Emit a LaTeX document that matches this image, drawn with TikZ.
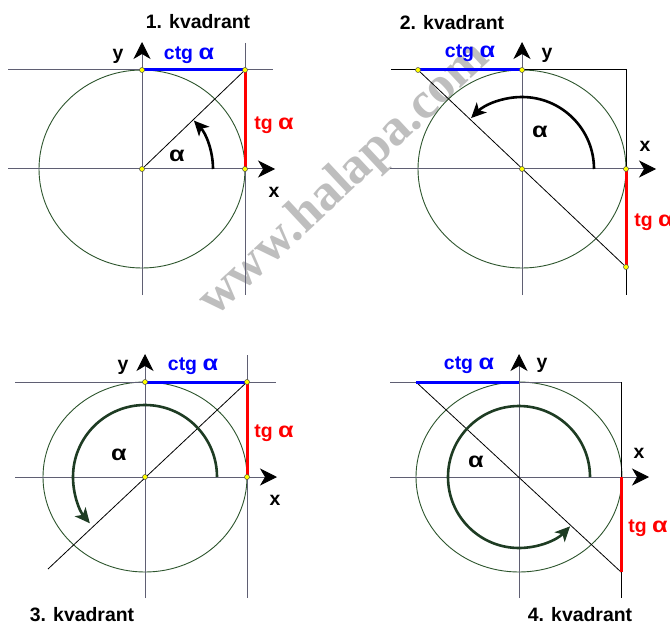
\documentclass[tikz,border=0pt]{standalone}
\usepackage{fontspec}
\setmainfont{Liberation Sans}
\newfontfamily\vodoznak{Liberation Serif}
\usepackage{tikz}
\usetikzlibrary{arrows.meta}
\definecolor{sivaOsa}{RGB}{95,95,115}
\definecolor{zelenaKruh}{RGB}{45,85,45}
\definecolor{zelenaOblouk}{RGB}{30,60,35}
\definecolor{modra}{RGB}{0,0,255}
\definecolor{cervena}{RGB}{255,0,0}
\definecolor{zluta}{RGB}{255,255,0}
\definecolor{sedaZnak}{RGB}{190,190,190}
\newcommand{\alfa}{\scalebox{1.3}[1.1]{α}}

\begin{document}
\begin{tikzpicture}[x=1bp,y=-1bp,font=\bfseries\fontsize{19.5}{21}\selectfont,
  osa/.style={sivaOsa,line width=1bp,
              -{Stealth[length=17bp,width=17bp,inset=5bp,color=black]}},
  primka/.style={sivaOsa,line width=1bp},
  ramecek/.style={black,line width=1bp},
  uhlopricka/.style={black,line width=0.8bp},
  kruh/.style={zelenaKruh,line width=0.9bp},
  ctg/.style={modra,line width=3bp},
  tg/.style={cervena,line width=3bp},
  oblouk/.style={line width=2.6bp,-{Stealth[length=15bp,width=14bp,inset=4bp]}},
  bod/.style={circle,draw=black!70,fill=zluta,inner sep=0pt,minimum size=5bp,
              line width=0.5bp},
  popis/.style={inner sep=0pt}]

  \useasboundingbox (0,0) rectangle (670,627);

  % vodoznak
  \node[rotate=43,text=sedaZnak,font=\vodoznak\bfseries\fontsize{52}{52}\selectfont]
    (www) at (345,180) {www.halapa.com};

  % 1. kvadrant
  \coordinate (O1) at (142,169);
  \coordinate (Y1) at (142,70);
  \coordinate (T1) at (245,70);
  \coordinate (X1) at (245,169);
  \coordinate (L1) at (8,70);    \coordinate (R1) at (273,70);
  \coordinate (H1) at (245,43);  \coordinate (D1) at (245,295);
  \coordinate (xa1) at (8,169);  \coordinate (xb1) at (275,169);
  \coordinate (ya1) at (142,295);\coordinate (yb1) at (142,42);
  \coordinate (A1) at (213,169);

  \draw[kruh] (O1) ellipse [x radius=103,y radius=99];
  \draw[primka] (L1) -- (R1);
  \draw[primka] (H1) -- (D1);
  \draw[osa] (xa1) -- (xb1);
  \draw[osa] (ya1) -- (yb1);
  \draw[uhlopricka] (O1) -- (T1);
  \draw[ctg] (Y1) -- (T1);
  \draw[tg] (T1) -- (X1);
  \draw[oblouk] (A1) arc[start angle=0,end angle=-43,radius=71];
  \node[bod] (b11) at (O1) {};
  \node[bod] (b12) at (Y1) {};
  \node[bod] (b13) at (T1) {};
  \node[bod] (b14) at (X1) {};

  \node[popis] (k1) at (198,22) {1. kvadrant};
  \node[popis] (y1) at (118,56) {y};
  \node[popis,modra] (c1) at (189,55) {ctg \alfa};
  \node[popis,cervena] (t1) at (274,125) {tg \alfa};
  \node[popis] (a1) at (177,156) {\alfa};
  \node[popis] (x1) at (274,192) {x};

  % 2. kvadrant
  \coordinate (O2) at (522,169);
  \coordinate (Y2) at (522,70);
  \coordinate (C2) at (418,70);
  \coordinate (X2) at (626,169);
  \coordinate (B2) at (626,267);
  \coordinate (L2) at (391,70);  \coordinate (R2) at (626,70);
  \coordinate (D2) at (626,295);
  \coordinate (xa2) at (390,169);\coordinate (xb2) at (656,169);
  \coordinate (ya2) at (522,295);\coordinate (yb2) at (522,42);
  \coordinate (A2) at (594,169);

  \draw[kruh] (O2) ellipse [x radius=104,y radius=99];
  \draw[ramecek] (L2) -- (R2) -- (D2);
  \draw[osa] (xa2) -- (xb2);
  \draw[osa] (ya2) -- (yb2);
  \draw[uhlopricka] (C2) -- (B2);
  \draw[ctg] (C2) -- (Y2);
  \draw[tg] (X2) -- (B2);
  \draw[oblouk] (A2) arc[start angle=0,end angle=-135,radius=72];
  \node[bod] (b21) at (O2) {};
  \node[bod] (b22) at (Y2) {};
  \node[bod] (b23) at (C2) {};
  \node[bod] (b24) at (X2) {};
  \node[bod] (b25) at (B2) {};

  \node[popis] (k2) at (452,23) {2. kvadrant};
  \node[popis,modra] (c2) at (470,53) {ctg \alfa};
  \node[popis] (y2) at (547,55) {y};
  \node[popis] (x2) at (645,146) {x};
  \node[popis,cervena] (t2) at (654,222) {tg \alfa};
  \node[popis] (a2) at (540,132) {\alfa};

  % 3. kvadrant
  \coordinate (O3) at (145,477);
  \coordinate (Y3) at (145,382);
  \coordinate (T3) at (247,382);
  \coordinate (X3) at (247,477);
  \coordinate (S3) at (48,569);
  \coordinate (L3) at (15,382);  \coordinate (R3) at (276,382);
  \coordinate (H3) at (247,355); \coordinate (D3) at (247,598);
  \coordinate (xa3) at (15,477); \coordinate (xb3) at (277,477);
  \coordinate (ya3) at (145,598);\coordinate (yb3) at (145,354);
  \coordinate (A3) at (217,477);

  \draw[kruh] (O3) ellipse [x radius=102,y radius=95];
  \draw[primka] (L3) -- (R3);
  \draw[primka] (H3) -- (D3);
  \draw[osa] (xa3) -- (xb3);
  \draw[osa] (ya3) -- (yb3);
  \draw[uhlopricka] (S3) -- (T3);
  \draw[ctg] (Y3) -- (T3);
  \draw[tg] (T3) -- (X3);
  \draw[oblouk,zelenaOblouk] (A3) arc[start angle=0,end angle=-220,radius=72];
  \node[bod] (b31) at (O3) {};
  \node[bod] (b32) at (Y3) {};
  \node[bod] (b33) at (T3) {};
  \node[bod] (b34) at (X3) {};

  \node[popis] (y3) at (123,367) {y};
  \node[popis,modra] (c3) at (193,366) {ctg \alfa};
  \node[popis,cervena] (t3) at (274,433) {tg \alfa};
  \node[popis] (a3) at (119,455) {\alfa};
  \node[popis] (x3) at (275,500) {x};
  \node[popis] (k3) at (82,615) {3. kvadrant};

  % 4. kvadrant
  \coordinate (O4) at (519,477);
  \coordinate (Y4) at (519,382);
  \coordinate (C4) at (416,382);
  \coordinate (X4) at (621,477);
  \coordinate (B4) at (621,572);
  \coordinate (L4) at (390,382); \coordinate (R4) at (621,382);
  \coordinate (D4) at (621,598);
  \coordinate (xa4) at (390,477);\coordinate (xb4) at (649,477);
  \coordinate (ya4) at (519,598);\coordinate (yb4) at (519,354);
  \coordinate (A4) at (590,477);

  \draw[kruh] (O4) ellipse [x radius=103,y radius=95];
  \draw[primka] (L4) -- (R4);
  \draw[ramecek] (R4) -- (D4);
  \draw[osa] (xa4) -- (xb4);
  \draw[osa] (ya4) -- (yb4);
  \draw[uhlopricka] (C4) -- (B4);
  \draw[ctg] (C4) -- (Y4);
  \draw[tg] (X4) -- (B4);
  \draw[oblouk,zelenaOblouk] (A4) arc[start angle=0,end angle=-316,radius=71];

  \node[popis,modra] (c4) at (469,365) {ctg \alfa};
  \node[popis] (y4) at (542,365) {y};
  \node[popis] (x4) at (639,453) {x};
  \node[popis] (a4) at (476,462) {\alfa};
  \node[popis,cervena] (t4) at (648,528) {tg \alfa};
  \node[popis] (k4) at (580,615) {4. kvadrant};
\end{tikzpicture}
\end{document}
